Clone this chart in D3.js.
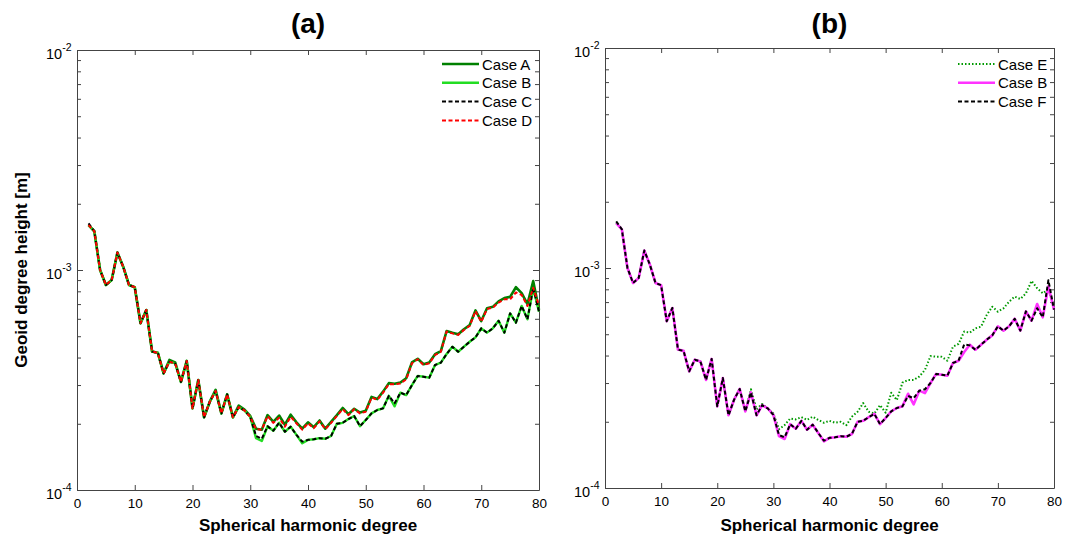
<!DOCTYPE html>
<html>
<head>
<meta charset="utf-8">
<script src="https://cdn.jsdelivr.net/npm/d3@7"></script>
<style>
  body { margin: 0; background: #fff; }
  svg { font-family: "Liberation Sans", Arial, sans-serif; }
  .axis path, .axis line { stroke: #444; stroke-width: 1; }
  .axis text { font-size: 13.5px; fill: #000; font-family: "Liberation Sans", Arial, sans-serif; }
</style>
</head>
<body>
<svg id="chart" width="1076" height="544"></svg>
<script>
// spherical harmonic degrees 2..80
const degrees = d3.range(2, 81);
const xTicks = [0, 10, 20, 30, 40, 50, 60, 70, 80];
// y values are in units of 1e-4 m
const yMajor = [1, 10, 100];
const yMinor = [2, 3, 4, 5, 6, 7, 8, 9, 20, 30, 40, 50, 60, 70, 80, 90];
const yExp = { 1: "-4", 10: "-3", 100: "-2" };

// geoid degree heights [1e-4 m], degree 2..80
const caseA = [16.0, 15.0, 10.0, 8.55, 9.0, 12.0, 10.35, 8.55, 8.35, 5.73,
  6.58, 4.26, 4.20, 3.39, 3.90, 3.80, 3.10, 3.86, 2.35, 3.16,
  2.14, 2.52, 2.85, 2.23, 2.72, 2.14, 2.42, 2.32, 2.17,
  1.90, 1.88, 2.19, 2.04, 2.18, 1.98, 2.20, 2.03, 1.90, 2.03,
  1.93, 2.07, 1.90, 2.04, 2.19, 2.36, 2.21, 2.34, 2.25, 2.29,
  2.65, 2.59, 2.80, 3.06, 3.04, 3.08, 3.22, 3.80, 3.95, 3.73,
  3.80, 4.14, 4.28, 5.28, 5.18, 5.10, 5.38, 5.62, 6.55, 5.86,
  6.70, 6.80, 7.20, 7.45, 7.55, 8.35, 7.85, 7.00, 8.90, 6.60];
const caseB = [16.0, 15.0, 10.0, 8.55, 9.0, 12.0, 10.35, 8.55, 8.35, 5.73,
  6.58, 4.26, 4.20, 3.39, 3.83, 3.76, 3.10, 3.86, 2.35, 3.16,
  2.14, 2.52, 2.82, 2.23, 2.72, 2.14, 2.38, 2.30, 2.15,
  1.72, 1.67, 1.95, 1.86, 2.02, 1.84, 1.94, 1.78, 1.63, 1.69,
  1.70, 1.72, 1.71, 1.76, 2.00, 2.02, 2.10, 2.17, 1.95, 2.08,
  2.23, 2.31, 2.35, 2.68, 2.40, 2.77, 2.70, 3.00, 3.30, 3.27,
  3.24, 3.70, 3.79, 4.15, 4.48, 4.25, 4.48, 4.72, 4.94, 5.43,
  5.19, 5.43, 5.88, 5.19, 6.35, 5.76, 6.86, 5.97, 8.25, 6.47];
const caseC = [16.3, 15.0, 10.0, 8.55, 9.0, 12.0, 10.35, 8.55, 8.35, 5.73,
  6.58, 4.26, 4.20, 3.39, 3.83, 3.76, 3.10, 3.86, 2.35, 3.16,
  2.14, 2.52, 2.82, 2.23, 2.72, 2.14, 2.38, 2.30, 2.15,
  1.76, 1.71, 1.95, 1.86, 2.02, 1.84, 1.94, 1.78, 1.66, 1.69,
  1.70, 1.72, 1.71, 1.76, 2.00, 2.02, 2.10, 2.17, 1.95, 2.08,
  2.23, 2.31, 2.35, 2.68, 2.48, 2.77, 2.70, 3.00, 3.30, 3.27,
  3.24, 3.70, 3.79, 4.15, 4.48, 4.25, 4.48, 4.72, 4.94, 5.43,
  5.19, 5.43, 5.88, 5.19, 6.35, 5.76, 6.86, 5.97, 8.30, 6.47];
const caseD = [16.0, 15.0, 10.0, 8.55, 9.0, 12.0, 10.35, 8.55, 8.35, 5.73,
  6.58, 4.26, 4.20, 3.39, 3.83, 3.76, 3.10, 3.86, 2.35, 3.16,
  2.14, 2.52, 2.82, 2.23, 2.72, 2.14, 2.38, 2.30, 2.15,
  1.89, 1.88, 2.17, 2.02, 2.13, 1.94, 2.15, 2.01, 1.88, 2.01,
  1.91, 2.05, 1.89, 2.02, 2.17, 2.33, 2.19, 2.33, 2.23, 2.27,
  2.63, 2.57, 2.77, 3.03, 3.02, 3.05, 3.18, 3.77, 3.93, 3.70,
  3.77, 4.11, 4.25, 5.25, 5.15, 5.07, 5.34, 5.57, 6.51, 5.82,
  6.65, 6.74, 7.11, 7.36, 7.36, 7.90, 7.70, 6.86, 8.30, 6.90];
const caseE = [16.0, 15.0, 10.0, 8.55, 9.0, 12.0, 10.35, 8.55, 8.35, 5.73,
  6.58, 4.26, 4.20, 3.39, 3.83, 3.76, 3.10, 3.86, 2.35, 3.16,
  2.14, 2.52, 2.82, 2.23, 2.81, 2.28, 2.41, 2.30, 2.18,
  1.85, 1.93, 2.07, 2.05, 2.10, 2.04, 2.11, 2.04, 1.98, 2.02,
  1.98, 2.00, 1.93, 2.11, 2.22, 2.43, 2.22, 2.18, 2.38, 2.20,
  2.71, 2.51, 3.01, 3.10, 3.10, 3.21, 3.44, 3.98, 3.95, 3.95,
  3.79, 4.39, 4.52, 5.14, 5.08, 5.32, 5.41, 6.11, 6.67, 6.33,
  6.56, 7.03, 7.41, 7.23, 7.67, 8.73, 8.09, 7.67, 8.00, 6.67];
const caseF = [16.3, 15.0, 10.0, 8.55, 9.0, 12.0, 10.35, 8.55, 8.35, 5.73,
  6.58, 4.26, 4.20, 3.39, 3.83, 3.76, 3.10, 3.86, 2.35, 3.16,
  2.14, 2.52, 2.82, 2.23, 2.72, 2.14, 2.38, 2.30, 2.15,
  1.74, 1.70, 1.95, 1.86, 2.02, 1.84, 1.94, 1.78, 1.64, 1.69,
  1.70, 1.72, 1.71, 1.76, 2.00, 2.02, 2.10, 2.17, 1.95, 2.08,
  2.23, 2.31, 2.35, 2.62, 2.56, 2.77, 2.81, 3.00, 3.30, 3.27,
  3.24, 3.70, 3.79, 4.50, 4.45, 4.25, 4.48, 4.72, 4.94, 5.43,
  5.19, 5.43, 5.88, 5.19, 6.35, 5.76, 6.56, 5.97, 8.80, 6.47];

const svg = d3.select("#chart");

function drawPanel(opt) {
  const x = d3.scaleLinear().domain([0, 80]).range([opt.left, opt.right]);
  const y = d3.scaleLog().domain([1, 100]).range([opt.bottom, opt.top]);
  const g = svg.append("g");

  // x axes (bottom labelled, top plain), ticks pointing inward
  g.append("g").attr("class", "axis")
    .attr("transform", "translate(0," + opt.bottom + ")")
    .call(d3.axisBottom(x).tickValues(xTicks).tickSize(-5).tickSizeOuter(0).tickPadding(8));
  g.append("g").attr("class", "axis")
    .attr("transform", "translate(0," + opt.top + ")")
    .call(d3.axisTop(x).tickValues(xTicks).tickSize(-5).tickSizeOuter(0).tickFormat(""));

  // y axes, log scale with minor ticks, labels as 10^n
  const left = g.append("g").attr("class", "axis")
    .attr("transform", "translate(" + opt.left + ",0)")
    .call(d3.axisLeft(y).tickValues(yMajor).tickSize(-6).tickSizeOuter(0));
  left.selectAll(".tick text").each(function (d) {
    const t = d3.select(this).text(null)
      .attr("text-anchor", "start").attr("x", -31).attr("dy", null).attr("y", 8)
      .style("font-size", "14.5px");
    t.append("tspan").text("10");
    t.append("tspan").attr("dy", -8).style("font-size", "10.5px").text(yExp[d]);
  });
  g.append("g").attr("class", "axis")
    .attr("transform", "translate(" + opt.left + ",0)")
    .call(d3.axisLeft(y).tickValues(yMinor).tickSize(-4).tickSizeOuter(0).tickFormat(""))
    .select(".domain").remove();
  g.append("g").attr("class", "axis")
    .attr("transform", "translate(" + opt.right + ",0)")
    .call(d3.axisRight(y).tickValues(yMajor).tickSize(-6).tickSizeOuter(0).tickFormat(""));
  g.append("g").attr("class", "axis")
    .attr("transform", "translate(" + opt.right + ",0)")
    .call(d3.axisRight(y).tickValues(yMinor).tickSize(-4).tickSizeOuter(0).tickFormat(""))
    .select(".domain").remove();

  // series
  const line = d3.line().x(d => x(d[0])).y(d => y(d[1]));
  opt.series.forEach(s => {
    g.append("path")
      .datum(degrees.map((d, i) => [d, s.values[i]]))
      .attr("fill", "none")
      .attr("stroke", s.color)
      .attr("stroke-width", s.width)
      .attr("stroke-dasharray", s.dash)
      .attr("stroke-linejoin", "round")
      .attr("d", line);
  });

  // legend (no box)
  opt.series.forEach((s, i) => {
    const ly = opt.legendY + i * 18.8;
    g.append("line")
      .attr("x1", opt.legendX).attr("x2", opt.legendX + 37)
      .attr("y1", ly).attr("y2", ly)
      .attr("stroke", s.color)
      .attr("stroke-width", s.width)
      .attr("stroke-dasharray", s.dash);
    g.append("text")
      .attr("x", opt.legendX + 40).attr("y", ly + 5.5)
      .attr("font-size", "15px")
      .text(s.name);
  });

  // panel title and x label
  const cx = (opt.left + opt.right) / 2;
  g.append("text").attr("x", cx).attr("y", 33)
    .attr("text-anchor", "middle").attr("font-size", "28px").attr("font-weight", "bold")
    .text(opt.title);
  g.append("text").attr("x", cx).attr("y", 531)
    .attr("text-anchor", "middle").attr("font-size", "17px").attr("font-weight", "bold")
    .text("Spherical harmonic degree");
}

drawPanel({
  title: "(a)", left: 77, right: 539, top: 50, bottom: 490,
  legendX: 442, legendY: 64,
  series: [
    { name: "Case A", values: caseA, color: "#008000", width: 2.6, dash: null },
    { name: "Case B", values: caseB, color: "#22dd22", width: 2.4, dash: null },
    { name: "Case C", values: caseC, color: "#000000", width: 2, dash: "4,2.5" },
    { name: "Case D", values: caseD, color: "#ff0000", width: 2, dash: "4,2.5" }
  ]
});

drawPanel({
  title: "(b)", left: 605, right: 1054, top: 48, bottom: 488,
  legendX: 958, legendY: 64,
  series: [
    { name: "Case E", values: caseE, color: "#009900", width: 2, dash: "1.5,2" },
    { name: "Case B", values: caseB, color: "#ff33ff", width: 2.6, dash: null },
    { name: "Case F", values: caseF, color: "#000000", width: 2, dash: "4,2.5" }
  ]
});

// shared y label
svg.append("text")
  .attr("transform", "translate(27,270) rotate(-90)")
  .attr("text-anchor", "middle").attr("font-size", "17px").attr("font-weight", "bold")
  .text("Geoid degree height [m]");
</script>
</body>
</html>
